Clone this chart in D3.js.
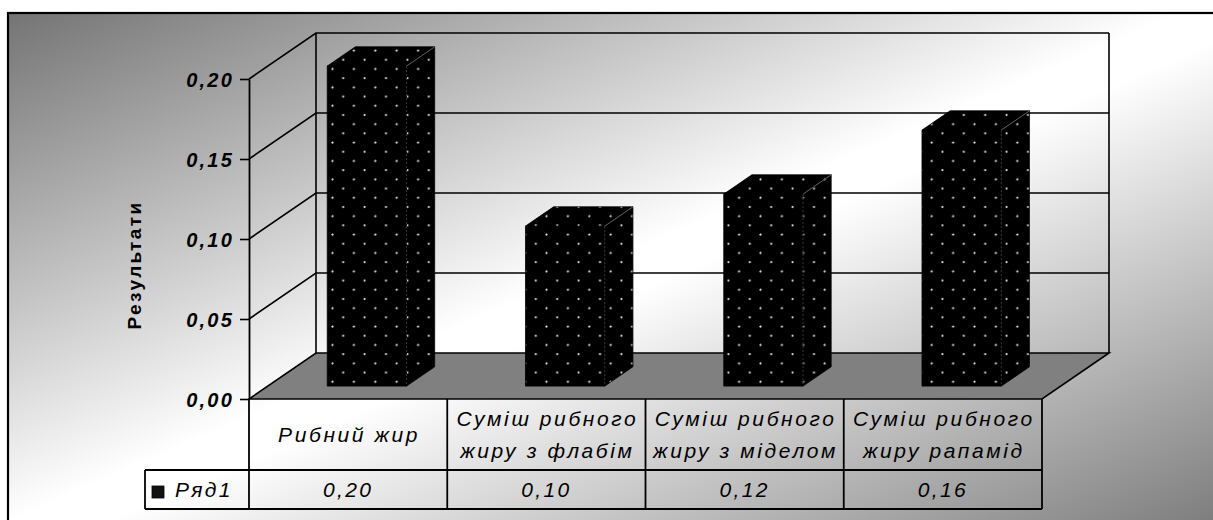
<!DOCTYPE html>
<html>
<head>
<meta charset="utf-8">
<script src="https://cdn.jsdelivr.net/npm/d3@7"></script>
<style>
  html, body { margin: 0; padding: 0; background: #fff; }
  svg { display: block; }
  text { font-family: "Liberation Sans", Arial, sans-serif; fill: #000; }
</style>
</head>
<body>
<svg id="chart" width="1213" height="520"></svg>
<script>
// Chart data
const categories = [
  ["Рибний жир"],
  ["Суміш рибного", "жиру з флабім"],
  ["Суміш рибного", "жиру з міделом"],
  ["Суміш рибного", "жиру рапамід"]
];
const values = [0.20, 0.10, 0.12, 0.16];
const tickValues = [0, 0.05, 0.10, 0.15, 0.20];
const seriesName = "Ряд1";
const axisTitle = "Результати";

const fmt = d => d.toFixed(2).replace(".", ",");

const svg = d3.select("#chart");
const W = 1213, H = 520;

// Background: diagonal gray–white–gray fill inside the chart frame
const defs = svg.append("defs");
const grad = defs.append("linearGradient").attr("id", "bg")
  .attr("x1", 0).attr("y1", 0).attr("x2", 1).attr("y2", 1);
grad.append("stop").attr("offset", 0).attr("stop-color", "#747474");
grad.append("stop").attr("offset", 0.48).attr("stop-color", "#ffffff");
grad.append("stop").attr("offset", 0.52).attr("stop-color", "#ffffff");
grad.append("stop").attr("offset", 1).attr("stop-color", "#767676");

// Dotted fill for the columns
const pat = defs.append("pattern").attr("id", "dots")
  .attr("patternUnits", "userSpaceOnUse")
  .attr("width", 21.4).attr("height", 18.4)
  .attr("x", 332).attr("y", 50);
pat.append("rect").attr("width", 21.4).attr("height", 18.4).attr("fill", "#000");
pat.append("circle").attr("cx", 0.5).attr("cy", 0.5).attr("r", 1.1).attr("fill", "#eaeaea");
pat.append("circle").attr("cx", 21.4 + 0.5).attr("cy", 0.5).attr("r", 1.1).attr("fill", "#eaeaea");
pat.append("circle").attr("cx", 0.5).attr("cy", 18.4 + 0.5).attr("r", 1.1).attr("fill", "#eaeaea");
pat.append("circle").attr("cx", 11.2).attr("cy", 9.7).attr("r", 1.1).attr("fill", "#eaeaea");

svg.append("rect")
  .attr("x", 8).attr("y", 13).attr("width", W + 10).attr("height", H + 10)
  .attr("fill", "url(#bg)").attr("stroke", "#000").attr("stroke-width", 2.2);

// Plot geometry: front plane scales plus a depth offset
const x = d3.scaleBand().domain(d3.range(categories.length)).range([249, 1042]);
const y = d3.scaleLinear().domain([0, 0.20]).range([399, 79]);
const DX = 67, DY = -46;
const P = (px, v, f) => [px + DX * f, y(v) + DY * f];
const x0 = x.range()[0], x1 = x.range()[1];
const line = d3.line();

// Floor
svg.append("path")
  .attr("d", line([P(x0, 0, 0), P(x1, 0, 0), P(x1, 0, 1), P(x0, 0, 1)]) + "Z")
  .attr("fill", "#808080").attr("stroke", "#000").attr("stroke-width", 1.6);

// Side wall & back wall gridlines
const grid = svg.append("g").attr("fill", "none").attr("stroke", "#000").attr("stroke-width", 1.6);
tickValues.filter(v => v > 0).forEach(v => {
  grid.append("path").attr("d", line([P(x0, v, 0), P(x0, v, 1), P(x1, v, 1)]));
});
// Wall edges
grid.append("path").attr("d", line([P(x0, 0, 1), P(x0, 0.20, 1)]));
grid.append("path").attr("d", line([P(x1, 0, 1), P(x1, 0.20, 1)]));

// Columns
const F1 = 0.28, F2 = 0.70;
const bars = svg.append("g");
values.forEach((v, i) => {
  const bx0 = x(i) + x.bandwidth() * 0.3;
  const bx1 = x(i) + x.bandwidth() * 0.7;
  const g = bars.append("g");
  const front = [P(bx0, v, F1), P(bx1, v, F1), P(bx1, 0, F1), P(bx0, 0, F1)];
  const side = [P(bx1, 0, F1), P(bx1, 0, F2), P(bx1, v, F2), P(bx1, v, F1)];
  const top = [P(bx0, v, F1), P(bx1, v, F1), P(bx1, v, F2), P(bx0, v, F2)];
  [front, side, top].forEach(pts => {
    g.append("path").attr("d", line(pts) + "Z")
      .attr("fill", "url(#dots)").attr("stroke", "#000").attr("stroke-width", 0.8);
  });
  // faint inner edges
  g.append("path").attr("d", line([P(bx1, v, F1), P(bx1, v, F2)]))
    .attr("stroke", "#777").attr("stroke-width", 0.8).attr("fill", "none");
  g.append("path").attr("d", line([P(bx1, v, F1), P(bx1, 0, F1)]))
    .attr("stroke", "#444").attr("stroke-width", 0.8).attr("fill", "none")
    .attr("stroke-dasharray", "2,2");
});

// Y axis
const yAxis = svg.append("g").attr("transform", "translate(249,0)")
  .call(d3.axisLeft(y).tickValues(tickValues).tickSize(9).tickSizeOuter(0).tickPadding(6).tickFormat(fmt));
yAxis.select(".domain").attr("stroke", "#000").attr("stroke-width", 1.8);
yAxis.selectAll(".tick line").attr("stroke", "#000").attr("stroke-width", 1.6);
yAxis.selectAll(".tick text")
  .attr("font-family", "Liberation Sans, Arial, sans-serif")
  .attr("font-size", 20).attr("font-weight", "bold").attr("font-style", "italic")
  .attr("letter-spacing", 2.2).attr("fill", "#000").attr("dy", "0.36em");

// Axis title
svg.append("text")
  .attr("transform", "translate(141,265) rotate(-90)")
  .attr("text-anchor", "middle")
  .attr("font-size", 19).attr("font-weight", "bold").attr("letter-spacing", 2.4)
  .text(axisTitle);

// Data table
const rowTop = 399, rowMid = 470, rowBot = 509, legendLeft = 145;
const tbl = svg.append("g").attr("stroke", "#000").attr("stroke-width", 1.8).attr("fill", "none");
tbl.append("path").attr("d", line([[x0, rowTop], [x0, rowBot]]));
d3.range(categories.length).forEach(i => {
  tbl.append("path").attr("d", line([[x(i) + x.bandwidth(), rowTop], [x(i) + x.bandwidth(), rowBot]]));
});
tbl.append("path").attr("d", line([[legendLeft, rowMid], [x1, rowMid]]));
tbl.append("path").attr("d", line([[legendLeft, rowBot], [x1, rowBot]]));
tbl.append("path").attr("d", line([[legendLeft, rowMid], [legendLeft, rowBot]]));

const catText = svg.append("g").attr("font-size", 21).attr("font-style", "italic")
  .attr("text-anchor", "middle").attr("letter-spacing", 2.6);
categories.forEach((lines, i) => {
  const cx = x(i) + x.bandwidth() / 2;
  const cy = (rowTop + rowMid) / 2;
  const n = lines.length;
  lines.forEach((s, k) => {
    catText.append("text")
      .attr("x", cx + 1)
      .attr("y", cy + (k - (n - 1) / 2) * 32)
      .attr("dy", "0.36em")
      .text(s);
  });
});

const valText = svg.append("g").attr("font-size", 21).attr("font-style", "italic")
  .attr("text-anchor", "middle").attr("letter-spacing", 2.4);
values.forEach((v, i) => {
  valText.append("text")
    .attr("x", x(i) + x.bandwidth() / 2)
    .attr("y", (rowMid + rowBot) / 2)
    .attr("dy", "0.36em")
    .text(fmt(v));
});

// Legend key in the table
svg.append("rect").attr("x", 152).attr("y", 486).attr("width", 12).attr("height", 12)
  .attr("fill", "#111").attr("stroke", "#000").attr("stroke-width", 0.8);
svg.append("text").attr("x", 175).attr("y", (rowMid + rowBot) / 2).attr("dy", "0.36em")
  .attr("font-size", 21).attr("font-style", "italic").attr("letter-spacing", 2.4)
  .text(seriesName);
</script>
</body>
</html>
